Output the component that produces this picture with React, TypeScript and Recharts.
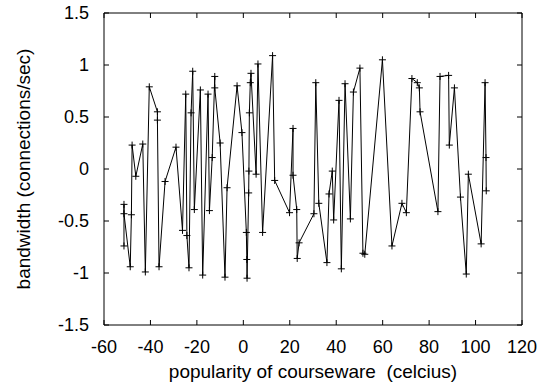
import { LineChart, Line, XAxis, YAxis } from "recharts";

// popularity (x) and bandwidth (y), in the order the line visits them
const popularity = [
  -51.4, -51.4, -51.4, -48.7, -48.2, -47.9, -46.3, -43.3, -42.2, -40.5,
  -37.0, -37.0, -36.3, -33.7, -29.0, -26.2, -24.8, -24.3, -23.4, -22.5,
  -21.8, -21.1, -18.5, -17.5, -15.2, -14.6, -13.4, -12.3, -12.3, -10.0,
  -7.9, -7.0, -2.7, -0.6, 1.3, 1.5, 1.6, 2.3, 2.4, 2.6,
  3.0, 3.3, 5.5, 6.3, 8.3, 12.6, 13.5, 19.9, 21.4, 21.4,
  23.0, 23.2, 24.0, 30.4, 31.2, 32.5, 36.0, 36.9, 38.3, 38.9,
  41.2, 42.2, 43.8, 46.1, 47.4, 50.2, 51.5, 52.3, 59.9, 64.0,
  68.3, 70.2, 72.6, 74.9, 75.8, 76.1, 83.8, 84.7, 88.4, 88.7,
  90.9, 93.5, 96.0, 96.9, 102.4, 104.1, 104.5, 104.6,
];
const bandwidth = [
  -0.74, -0.34, -0.43, -0.94, -0.44, 0.23, -0.07, 0.24, -0.99, 0.79,
  0.55, 0.47, -0.94, -0.12, 0.21, -0.59, 0.72, -0.64, -0.95, 0.54,
  0.94, -0.39, 0.76, -1.02, 0.72, -0.4, 0.11, 0.89, 0.78, 0.25,
  -1.04, -0.18, 0.8, 0.35, -0.61, -0.87, -1.05, -0.23, -0.02, 0.54,
  0.83, 0.92, -0.05, 1.01, -0.61, 1.09, -0.11, -0.42, 0.39, -0.06,
  -0.39, -0.86, -0.71, -0.43, 0.83, -0.33, -0.9, -0.24, -0.02, -0.49,
  0.66, -0.96, 0.82, -0.48, 0.74, 0.97, -0.81, -0.82, 1.05, -0.74,
  -0.33, -0.42, 0.87, 0.83, 0.78, 0.55, -0.41, 0.89, 0.9, 0.23,
  0.78, -0.27, -1.01, -0.05, -0.72, 0.83, 0.11, -0.21,
];

const xTicks = [-60, -40, -20, 0, 20, 40, 60, 80, 100, 120];
const yTicks = [-1.5, -1, -0.5, 0, 0.5, 1, 1.5];

const data = popularity.map((x, i) => ({ x, y: bandwidth[i] }));

const FONT = "'Liberation Sans', Arial, Helvetica, sans-serif";
const AXIS_LINE = { stroke: "#000", strokeWidth: 1 };
const TICK_LINE = { stroke: "#000", strokeWidth: 1 };

function Plus(props: any) {
  const { cx, cy } = props;
  if (cx == null || cy == null) return null;
  const s = 3.5;
  return (
    <path
      d={`M${cx - s},${cy}H${cx + s}M${cx},${cy - s}V${cy + s}`}
      stroke="#000"
      strokeWidth={1}
      fill="none"
    />
  );
}

const NoLabel = () => <g />;

export default function App() {
  return (
    <div style={{ position: "absolute", left: 0, top: 0, background: "#fff", fontFamily: FONT }}>
      <LineChart
        width={554}
        height={389}
        data={data}
        margin={{ top: 12, right: 31, left: 0, bottom: 0 }}
      >
        <XAxis
          dataKey="x"
          type="number"
          domain={[-60, 120]}
          ticks={xTicks}
          height={64}
          tickSize={-5}
          tickMargin={20}
          axisLine={AXIS_LINE}
          tickLine={TICK_LINE}
          tick={{ fill: "#000", fontSize: 18, fontFamily: FONT }}
          label={{
            value: "popularity of courseware\u00a0 (celcius)",
            position: "insideBottom",
            offset: 11,
            fill: "#000",
            fontSize: 19,
            fontFamily: FONT,
          }}
        />
        {/* mirror axes: top and right edges of the box with inward ticks */}
        <XAxis
          xAxisId="top"
          dataKey="x"
          orientation="top"
          type="number"
          domain={[-60, 120]}
          ticks={xTicks}
          height={1}
          tickSize={-5}
          axisLine={AXIS_LINE}
          tickLine={TICK_LINE}
          tick={<NoLabel />}
        />
        <YAxis
          type="number"
          domain={[-1.5, 1.5]}
          ticks={yTicks}
          width={104}
          tickSize={-5}
          tickMargin={20}
          axisLine={AXIS_LINE}
          tickLine={TICK_LINE}
          tick={{ fill: "#000", fontSize: 18, fontFamily: FONT }}
          label={{
            value: "bandwidth (connections/sec)",
            angle: -90,
            position: "insideLeft",
            offset: 23,
            fill: "#000",
            fontSize: 19,
            fontFamily: FONT,
            style: { textAnchor: "middle" },
          }}
        />
        <YAxis
          yAxisId="right"
          orientation="right"
          type="number"
          domain={[-1.5, 1.5]}
          ticks={yTicks}
          width={1}
          tickSize={-5}
          axisLine={AXIS_LINE}
          tickLine={TICK_LINE}
          tick={<NoLabel />}
        />
        <Line
          xAxisId="top"
          yAxisId="right"
          dataKey="y"
          stroke="none"
          dot={false}
          activeDot={false}
          legendType="none"
          isAnimationActive={false}
        />
        <Line
          dataKey="y"
          type="linear"
          stroke="#000"
          strokeWidth={1}
          dot={<Plus />}
          activeDot={false}
          isAnimationActive={false}
        />
      </LineChart>
    </div>
  );
}
